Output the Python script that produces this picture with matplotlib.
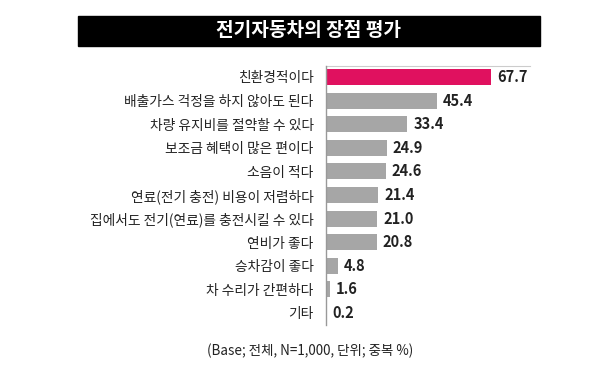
import matplotlib
matplotlib.use('Agg')
import matplotlib.pyplot as plt
from matplotlib.patches import Rectangle

plt.rcParams['font.family'] = ['Noto Sans CJK KR', 'DejaVu Sans']

# 데이터
항목 = ['친환경적이다', '배출가스 걱정을 하지 않아도 된다', '차량 유지비를 절약할 수 있다',
        '보조금 혜택이 많은 편이다', '소음이 적다', '연료(전기 충전) 비용이 저렴하다',
        '집에서도 전기(연료)를 충전시킬 수 있다', '연비가 좋다', '승차감이 좋다',
        '차 수리가 간편하다', '기타']
값 = [67.7, 45.4, 33.4, 24.9, 24.6, 21.4, 21.0, 20.8, 4.8, 1.6, 0.2]
제목 = '전기자동차의 장점 평가'
주석 = '(Base; 전체, N=1,000, 단위; 중복 %)'

W, H = 600, 366
fig = plt.figure(figsize=(W / 100, H / 100), dpi=100)
fig.patch.set_facecolor('white')

# 제목 바
fig.patches.append(Rectangle((78 / W, 1 - 46 / H), 462 / W, 30 / H,
                             transform=fig.transFigure, color='black', zorder=0))
fig.text(308 / W, 1 - 31 / H, 제목, color='white', fontsize=13.8, fontweight='bold',
         ha='center', va='center')

ax = fig.add_axes([326 / W, 1 - 325 / H, 244 / W, 259 / H])
색 = ['#e0115f'] + ['#a6a6a6'] * (len(값) - 1)
ypos = list(range(len(값)))
ax.barh(ypos, 값, height=0.68, color=색, zorder=2)
for y, v in zip(ypos, 값):
    ax.text(v + 2.4, y, f'{v:.1f}', va='center', ha='left', fontsize=10.5,
            fontweight='bold', color='#222222')

ax.set_xlim(0, 100)
ax.set_ylim(10.51, -0.466)
# 위쪽 연한 선
ax.plot([0, 83.6], [-0.466, -0.466], color='#cccccc', lw=0.8, clip_on=False)
ax.set_yticks(ypos)
ax.set_yticklabels(항목, fontsize=9.9, color='#222222')
ax.tick_params(axis='y', length=0, pad=9)
ax.set_xticks([])
for s in ['top', 'right', 'bottom']:
    ax.spines[s].set_visible(False)
ax.spines['left'].set_color('#999999')
ax.spines['left'].set_linewidth(1)

fig.text(310 / W, 1 - 351 / H, 주석, fontsize=9.7, ha='center', va='center', color='#222222')

fig.savefig('out.png', dpi=100)
